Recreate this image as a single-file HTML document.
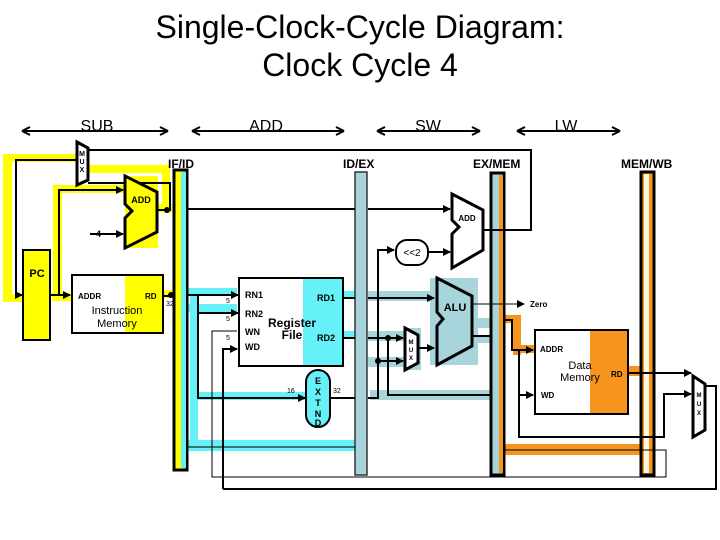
<!DOCTYPE html>
<html><head><meta charset="utf-8"><style>
html,body{margin:0;padding:0;background:#fff;}
svg{display:block;font-family:"Liberation Sans",Arial,sans-serif;}
</style></head><body>
<svg width="720" height="540" viewBox="0 0 720 540" xmlns="http://www.w3.org/2000/svg">
<defs>
<marker id="a" markerWidth="8" markerHeight="8" refX="7" refY="4" orient="auto" markerUnits="userSpaceOnUse"><path d="M0,0 L8,4 L0,8 z" fill="#000"/></marker>
</defs>
<text x="360" y="38" font-size="32" text-anchor="middle">Single-Clock-Cycle Diagram:</text>
<text x="360" y="76" font-size="32" text-anchor="middle">Clock Cycle 4</text>
<g font-size="16" text-anchor="middle">
<text x="97" y="131">SUB</text><text x="266" y="131">ADD</text><text x="428" y="131">SW</text><text x="566" y="131">LW</text>
</g>
<g stroke="#000" stroke-width="2" fill="none">
<path d="M22,131 H168 M22,131 l8,-4 M22,131 l8,4 M168,131 l-8,-4 M168,131 l-8,4"/>
<path d="M192,131 H344 M192,131 l8,-4 M192,131 l8,4 M344,131 l-8,-4 M344,131 l-8,4"/>
<path d="M377,131 H480 M377,131 l8,-4 M377,131 l8,4 M480,131 l-8,-4 M480,131 l-8,4"/>
<path d="M517,131 H620 M517,131 l8,-4 M517,131 l8,4 M620,131 l-8,-4 M620,131 l-8,4"/>
</g>
<g fill="#ffff00">
<rect x="3" y="154" width="74" height="8"/>
<rect x="3" y="154" width="9" height="148"/>
<rect x="3" y="294" width="22" height="8"/>
<rect x="88" y="165" width="82" height="8"/>
<rect x="162" y="165" width="8" height="48"/>
<rect x="53" y="185" width="75" height="8"/>
<rect x="53" y="185" width="9" height="115"/>
<rect x="52" y="293" width="22" height="8"/>
<rect x="125" y="176" width="33" height="72"/>
<rect x="158" y="204" width="14" height="8"/>
<rect x="163" y="290" width="12" height="8"/>
</g>
<g fill="#66f0f8">
<rect x="187" y="288" width="50" height="8"/>
<rect x="187" y="304" width="50" height="8"/>
<rect x="187" y="440" width="168" height="11"/>
<rect x="190" y="295" width="8" height="155"/>
<rect x="198" y="392" width="108" height="8"/>
<rect x="343" y="291" width="12" height="8"/>
<rect x="343" y="331" width="12" height="8"/>
</g>
<g fill="#a8d4dc">
<rect x="368" y="291" width="70" height="10"/>
<rect x="368" y="331" width="37" height="10"/>
<rect x="368" y="357" width="37" height="10"/>
<rect x="370" y="390" width="120" height="10"/>
<rect x="430" y="278" width="48" height="87"/>
<rect x="404" y="328" width="17" height="42"/>
<rect x="472" y="318" width="18" height="10"/>
<rect x="472" y="335" width="18" height="8"/>
</g>
<g fill="#f7941d">
<rect x="505" y="315" width="16" height="8"/>
<rect x="513" y="315" width="8" height="40"/>
<rect x="513" y="345" width="22" height="8"/>
<rect x="628" y="366" width="12" height="10"/>
<rect x="505" y="444" width="135" height="11"/>
</g>
<rect x="174" y="170" width="13" height="300" fill="#ffff00" stroke="#000" stroke-width="3"/>
<rect x="181" y="172" width="5" height="296" fill="#66f0f8"/>
<rect x="355" y="172" width="12" height="303" fill="#a8d4dc" stroke="#333" stroke-width="1.5"/>
<rect x="491" y="173" width="13" height="302" fill="#a8d4dc" stroke="#000" stroke-width="3"/>
<rect x="499" y="175" width="4" height="298" fill="#f7941d"/>
<rect x="641" y="172" width="13" height="303" fill="#f7941d" stroke="#000" stroke-width="3"/>
<rect x="644" y="174" width="5" height="299" fill="#fff8e0"/>
<g font-size="12" font-weight="bold">
<text x="168" y="168">IF/ID</text><text x="343" y="168">ID/EX</text><text x="473" y="168">EX/MEM</text><text x="621" y="168">MEM/WB</text>
</g>
<g stroke="#000" stroke-width="2" fill="none">
<path d="M88,150 H531 V230 H484"/>
<path d="M76,160 H16 V295 H22" marker-end="url(#a)"/>
<path d="M157,210 H170 V183 H88"/>
<path d="M50,295 H70" marker-end="url(#a)"/>
<path d="M59,295 V190 H123" marker-end="url(#a)"/>
<path d="M90,234 H123" marker-end="url(#a)"/>
<path d="M163,296 H174"/>
<path d="M188,209 H355"/>
<path d="M368,209 H450" marker-end="url(#a)"/>
<path d="M188,295 H238" marker-end="url(#a)"/>
<path d="M198,295 V398 H305" marker-end="url(#a)"/>
<path d="M198,313 H238" marker-end="url(#a)"/>
<path d="M343,298 H355 M368,298 H434" marker-end="url(#a)"/>
<path d="M343,338 H355 M368,338 H403" marker-end="url(#a)"/>
<path d="M330,398 H355 M368,398 H378 V361 H403" marker-end="url(#a)"/>
<path d="M378,361 V250 H394" marker-end="url(#a)"/>
<path d="M428,252 H450" marker-end="url(#a)"/>
<path d="M388,338 V395 H491"/>
<path d="M418,348 H434" marker-end="url(#a)"/>
<path d="M472,336 H491"/>
<path d="M504,320 H512 V350 H533" marker-end="url(#a)"/>
<path d="M519,350 V395 H533" marker-end="url(#a)"/>
<path d="M519,395 V437 H664 V394 H691" marker-end="url(#a)"/>
<path d="M628,373 H691" marker-end="url(#a)"/>
<path d="M223,489 V349 H237" marker-end="url(#a)"/>
<path d="M223,489 H716 V386 H705"/>
</g>
<g stroke="#000" stroke-width="1" fill="none">
<path d="M472,304 H524" marker-end="url(#a)"/>
<path d="M237,331 H212 V477 H666 V450 H505"/>
<path d="M187,447 H355"/>
</g>
<g fill="#000"><circle cx="171" cy="295" r="3"/><circle cx="167" cy="210" r="3"/><circle cx="388" cy="338" r="3"/><circle cx="378" cy="361" r="3"/></g>
<path d="M77,142 L88,148 V180 L77,185 Z" fill="#fff" stroke="#000" stroke-width="3"/>
<g font-size="7" font-weight="bold" text-anchor="middle"><text x="82" y="156">M</text><text x="82" y="164">U</text><text x="82" y="172">X</text></g>
<path d="M125,176 L157,192 V232 L125,248 V218 L132,211 L125,204 Z" fill="#ffff00" stroke="#000" stroke-width="3"/>
<text x="141" y="203" font-size="9" font-weight="bold" text-anchor="middle">ADD</text>
<text x="96" y="237" font-size="9" font-weight="bold">4</text>
<rect x="23" y="250" width="27" height="90" fill="#ffff00" stroke="#000" stroke-width="2"/>
<text x="37" y="277" font-size="11" font-weight="bold" text-anchor="middle">PC</text>
<rect x="72" y="275" width="91" height="58" fill="#fff" stroke="#000" stroke-width="2"/>
<rect x="125" y="276" width="37" height="56" fill="#ffff00"/>
<text x="78" y="299" font-size="8" font-weight="bold">ADDR</text><text x="145" y="299" font-size="8" font-weight="bold">RD</text>
<text x="166" y="306" font-size="7">32</text>
<text x="117" y="314" font-size="11" text-anchor="middle">Instruction</text><text x="117" y="327" font-size="11" text-anchor="middle">Memory</text>
<rect x="239" y="278" width="104" height="88" fill="#fff" stroke="#000" stroke-width="2"/>
<rect x="303" y="279" width="39" height="86" fill="#66f0f8"/>
<g font-size="9" font-weight="bold"><text x="245" y="298">RN1</text><text x="245" y="317">RN2</text><text x="245" y="335">WN</text><text x="245" y="350">WD</text><text x="317" y="301">RD1</text><text x="317" y="341">RD2</text></g>
<text x="292" y="327" font-size="12" font-weight="bold" text-anchor="middle">Register</text>
<text x="292" y="339" font-size="12" font-weight="bold" text-anchor="middle">File</text>
<g font-size="7"><text x="226" y="303">5</text><text x="226" y="321">5</text><text x="226" y="340">5</text><text x="287" y="393">16</text><text x="333" y="393">32</text></g>
<rect x="306" y="370" width="24" height="57" rx="12" fill="#66f0f8" stroke="#000" stroke-width="2"/>
<g font-size="9" font-weight="bold" text-anchor="middle"><text x="318" y="384">E</text><text x="318" y="395">X</text><text x="318" y="406">T</text><text x="318" y="417">N</text><text x="318" y="426">D</text></g>
<path d="M452,194 L483,210 V250 L452,268 V234 L459,227 L452,220 Z" fill="#fff" stroke="#000" stroke-width="3"/>
<text x="467" y="221" font-size="8" font-weight="bold" text-anchor="middle">ADD</text>
<rect x="396" y="240" width="32" height="25" rx="11" fill="#fff" stroke="#000" stroke-width="2"/>
<text x="412" y="256" font-size="10" text-anchor="middle">&lt;&lt;2</text>
<path d="M437,278 L472,296 V346 L437,365 V326 L443,319 L437,312 Z" fill="#a8d4dc" stroke="#000" stroke-width="3"/>
<text x="455" y="311" font-size="11" font-weight="bold" text-anchor="middle">ALU</text>
<text x="530" y="307" font-size="8" font-weight="bold">Zero</text>
<path d="M405,328 L418,335 V363 L405,370 Z" fill="#fff" stroke="#000" stroke-width="3"/>
<g font-size="6" font-weight="bold" text-anchor="middle"><text x="411" y="344">M</text><text x="411" y="352">U</text><text x="411" y="360">X</text></g>
<rect x="535" y="330" width="93" height="84" fill="#fff" stroke="#000" stroke-width="2"/>
<rect x="590" y="331" width="37" height="82" fill="#f7941d"/>
<g font-size="8" font-weight="bold"><text x="540" y="352">ADDR</text><text x="611" y="377">RD</text><text x="541" y="398">WD</text></g>
<text x="580" y="369" font-size="11" text-anchor="middle">Data</text><text x="580" y="381" font-size="11" text-anchor="middle">Memory</text>
<path d="M693,376 L705,384 V430 L693,437 Z" fill="#fff" stroke="#000" stroke-width="3"/>
<g font-size="6" font-weight="bold" text-anchor="middle"><text x="699" y="397">M</text><text x="699" y="406">U</text><text x="699" y="415">X</text></g>
</svg>
</body></html>
